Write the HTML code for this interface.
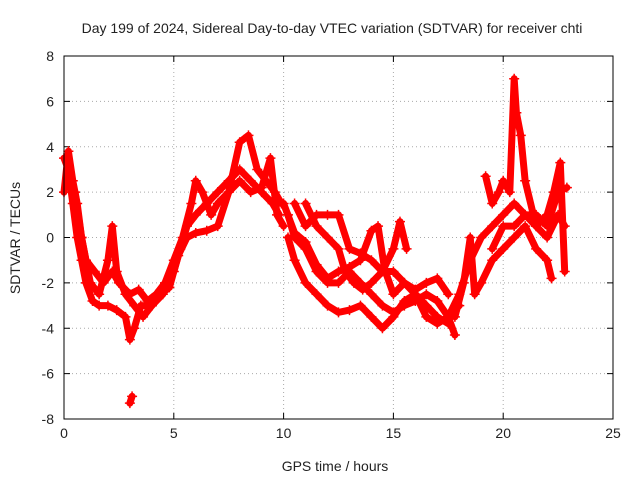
<!DOCTYPE html>
<html><head><meta charset="utf-8"><style>
body{margin:0;background:#fff}
svg text{font-family:"Liberation Sans",sans-serif;font-size:14px;fill:#222}
</style></head><body>
<svg id="chart" width="640" height="480" xmlns="http://www.w3.org/2000/svg">
<text x="332" y="33" text-anchor="middle">Day 199 of 2024, Sidereal Day-to-day VTEC variation (SDTVAR) for receiver chti</text>
<text x="335" y="471" text-anchor="middle">GPS time / hours</text>
<text transform="translate(20,238) rotate(-90)" text-anchor="middle">SDTVAR / TECUs</text>
<g id="grid"></g><g id="ticks"></g><g id="marks"></g>
<rect x="64" y="56" width="549" height="363" fill="none" stroke="#000" stroke-width="1"/>
</svg>
<script>
const xTicks=[0,5,10,15,20,25];
const yTicks=[-8,-6,-4,-2,0,2,4,6,8];
const trackA=[[0,3.5],[0.2,3],[0.4,1.5],[0.6,0],[0.8,-1],[1,-2],[1.3,-2.8],[1.6,-3],[2,-3],[2.4,-3.2],[2.8,-3.5],[3,-4.5],[3.2,-4],[3.5,-3],[4,-3],[4.5,-2.5],[5,-1.5],[5.3,-0.5],[5.6,0.5],[6,1],[6.5,1.5],[7,2],[7.5,2.5],[8,3],[8.5,2.5],[9,2],[9.5,1.5],[9.8,1]];
const trackB=[[0,2],[0.2,3.8],[0.4,2.5],[0.6,1.5],[0.8,0],[1,-1],[1.4,-1.5],[1.8,-2],[2.2,-1.5],[2.5,-2],[3,-2.5],[3.4,-2.3],[3.8,-2.8],[4.2,-2.5],[4.6,-2],[5,-1],[5.4,0],[5.8,1.5],[6,2.5],[6.3,2],[6.7,1],[7,1.5],[7.5,2],[8,4.2],[8.4,4.5],[8.8,3],[9.2,2.5],[9.6,2],[9.9,1.5]];
const trackC=[[0.5,2],[0.8,0],[1.2,-2],[1.6,-2.5],[2,-1],[2.2,0.5],[2.4,-1.5],[2.8,-2.5],[3.2,-3],[3.6,-3.5],[4,-3],[4.4,-2.5],[4.8,-2.2],[5.2,-0.8],[5.6,0],[6,0.2],[6.5,0.3],[7,0.5],[7.5,2],[8,2.5],[8.5,2],[9,2.2],[9.4,3.5],[9.7,1],[10,0.5]];
const trackOut=[[3,-7.3],[3.1,-7]];
const trackD=[[10.2,0],[10.5,-1],[11,-2],[11.5,-2.5],[12,-3],[12.5,-3.3],[13,-3.2],[13.5,-3],[14,-3.5],[14.5,-4],[15,-3.5],[15.5,-2.8],[16,-2.5],[16.5,-3],[17,-3.5],[17.5,-3.8]];
const trackE=[[10.2,1],[10.5,0],[11,-0.5],[11.5,-1.5],[12,-2],[12.5,-2],[13,-1.5],[13.5,-2],[14,-2.5],[14.5,-3],[15,-3.3],[15.5,-3],[16,-2.8],[16.5,-2.5],[17,-2.8],[17.5,-3.5],[17.8,-4.3]];
const trackF=[[11,1.5],[11.5,0.5],[12,0],[12.5,-0.5],[12.8,-1.5],[13.2,-2],[13.6,-2.3],[14,-2],[14.5,-1.5],[15,-1.5],[15.5,-2],[16,-2.5],[16.5,-3.5],[17,-3.8],[17.5,-3.5],[18,-3]];
const trackG=[[10.5,1.5],[11,0.5],[11.5,1],[12,1],[12.5,1],[13,-0.5],[13.5,-0.7],[14,-1],[14.5,-1.5],[15,-0.5],[15.3,0.7],[15.6,-0.5]];
const trackH=[[10,1.5],[10.5,0.2],[11,-0.2],[11.5,-1.2],[12,-1.8],[12.5,-1.5],[13,-1.3],[13.5,-1],[14,0.3],[14.3,0.5],[14.6,-1.4],[15,-2.5],[15.5,-2],[16,-2.3],[16.5,-2],[17,-1.8],[17.5,-2.5]];
const trackI=[[17.5,-3.5],[18,-2.5],[18.5,-1],[19,0],[19.5,0.5],[20,1],[20.5,1.5],[21,1],[21.5,0.5],[22,0],[22.5,1],[22.8,0.5]];
const trackJ=[[17.8,-3.5],[18.2,-2],[18.5,0],[18.7,-2.5],[19,-2],[19.5,-1],[20,-0.5],[20.5,0],[21,0.5],[21.5,-0.5],[22,-1],[22.2,-1.8]];
const trackK=[[19.2,2.7],[19.5,1.5],[19.8,2],[20,2.5],[20.3,2],[20.5,7],[20.6,5.5],[20.8,4.5],[21,2.5],[21.5,0.5],[22,1],[22.3,2],[22.6,3.3],[22.8,-1.5]];
const trackL=[[19.5,-0.5],[20,0.5],[20.5,0.5],[21,1],[21.5,1],[22,0.5],[22.5,2],[22.9,2.2]];
const tracks=[trackA,trackB,trackC,trackOut,trackD,trackE,trackF,trackG,trackH,trackI,trackJ,trackK,trackL];

const NS="http://www.w3.org/2000/svg";
const X0=64,X1=613,Y0=419,Y1=56;
function xs(v){return X0+(v-0)/(25-0)*(X1-X0);}
function ys(v){return Y0-(v+8)/16*(Y0-Y1);}
function mk(tag,attrs,parent){const e=document.createElementNS(NS,tag);for(const k in attrs)e.setAttribute(k,attrs[k]);parent.appendChild(e);return e;}
const grid=document.getElementById('grid'),ticks=document.getElementById('ticks'),marks=document.getElementById('marks');
xTicks.forEach(t=>{
  const x=xs(t);
  if(t>0&&t<25){const g=mk('line',{x1:x,x2:x,y1:Y1,y2:Y0,stroke:'#aaa','stroke-dasharray':'1,3'},grid);
  
  }
  mk('line',{x1:x,x2:x,y1:Y0,y2:Y0-6,stroke:'#000'},ticks);
  mk('line',{x1:x,x2:x,y1:Y1,y2:Y1+6,stroke:'#000'},ticks);
  const l=mk('text',{x:x,y:Y0+19,'text-anchor':'middle'},ticks);l.textContent=t;
  
  
});
yTicks.forEach(t=>{
  const y=ys(t);
  if(t>-8&&t<8){const g=mk('line',{x1:X0,x2:X1,y1:y,y2:y,stroke:'#aaa','stroke-dasharray':'1,3'},grid);
  
  }
  mk('line',{x1:X0,x2:X0+6,y1:y,y2:y,stroke:'#000'},ticks);
  mk('line',{x1:X1,x2:X1-6,y1:y,y2:y,stroke:'#000'},ticks);
  const l=mk('text',{x:X0-10,y:y+5,'text-anchor':'end'},ticks);l.textContent=t;
  
  
});
tracks.forEach((tr,i)=>{
  const pts=tr.map(p=>xs(p[0])+','+ys(p[1])).join(' ');
  const pl=mk('polyline',{points:pts,fill:'none',stroke:'#f00','stroke-width':7,'stroke-linejoin':'round','stroke-linecap':'round'},marks);
  
  
  tr.forEach(p=>{
    const x=xs(p[0]),y=ys(p[1]);
    const m=mk('path',{d:`M${x-5},${y}H${x+5}M${x},${y-5}V${y+5}`,stroke:'#f00','stroke-width':1.5},marks);
    
    
  });
});
</script>
</body></html>
